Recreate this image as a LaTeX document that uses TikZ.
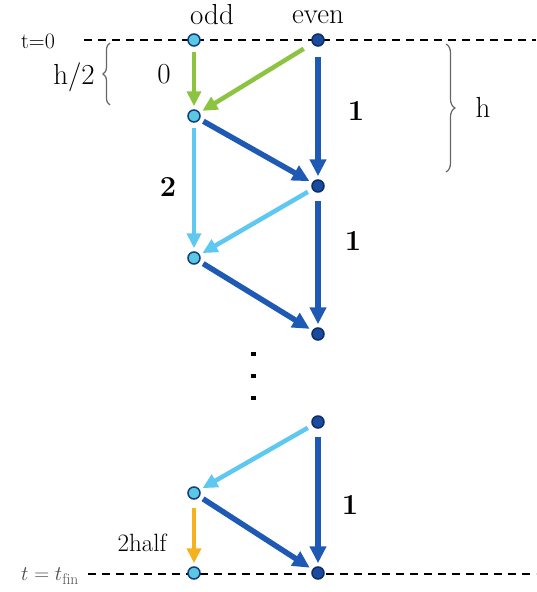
\documentclass[tikz,border=0pt]{standalone}
\usepackage{fontspec}
\usetikzlibrary{arrows.meta,decorations.pathreplacing}
\definecolor{dblue}{RGB}{30,90,180}
\definecolor{lblue}{RGB}{95,200,240}
\definecolor{lgreen}{RGB}{140,195,65}
\definecolor{orng}{RGB}{245,178,30}
\definecolor{oddfill}{RGB}{90,200,225}
\definecolor{evenfill}{RGB}{25,75,160}
\begin{document}
\begin{tikzpicture}[x=1pt,y=-1pt,
  oddnode/.style={circle,fill=oddfill,draw=evenfill!80!black,line width=1.5pt,minimum size=12pt,inner sep=0pt},
  evennode/.style={circle,fill=evenfill,draw=evenfill!60!black,line width=1.5pt,minimum size=12pt,inner sep=0pt},
  arr/.style={line width=5.5pt,-{Triangle[length=17pt,width=16pt]},shorten >=3pt,shorten <=5pt},
  thinarr/.style={line width=4.5pt,-{Triangle[length=15pt,width=14pt]},shorten >=3pt,shorten <=5pt},
  lab/.style={font=\fontsize{29}{32}\selectfont,inner sep=0pt},
  slab/.style={font=\fontsize{22}{25}\selectfont,inner sep=0pt},
  dline/.style={dash pattern=on 8pt off 6pt,line width=1.6pt},
  br/.style={decorate,decoration={brace,amplitude=7pt},line width=1.2pt,draw=black!60}]
\useasboundingbox (0,0) rectangle (536,592);
% time lines
\coordinate (tl0) at (84,40);
\coordinate (tr0) at (536,40);
\coordinate (tl1) at (88,574);
\coordinate (tr1) at (536,574);
\draw[dline] (tl0) -- (tr0);
\draw[dline] (tl1) -- (tr1);
% nodes
\node[oddnode] (o0) at (194,40) {};
\node[oddnode] (o1) at (194,116) {};
\node[oddnode] (o2) at (194,258) {};
\node[oddnode] (o3) at (194,493) {};
\node[oddnode] (o4) at (194,573) {};
\node[evennode] (e0) at (318,40) {};
\node[evennode] (e1) at (318,186) {};
\node[evennode] (e2) at (318,334) {};
\node[evennode] (e3) at (318,422) {};
\node[evennode] (e4) at (318,573) {};
% arrows
\draw[thinarr,lgreen] (o0) -- (o1);
\draw[thinarr,lgreen,shorten <=10pt] (e0) -- (o1);
\draw[arr,dblue,shorten <=10pt] (e0) -- (e1);
\draw[arr,dblue,shorten <=4pt] (o1) -- (e1);
\draw[thinarr,lblue] (o1) -- (o2);
\draw[thinarr,lblue] (e1) -- (o2);
\draw[arr,dblue,shorten <=8pt] (e1) -- (e2);
\draw[arr,dblue,shorten <=4pt] (o2) -- (e2);
\draw[thinarr,lblue] (e3) -- (o3);
\draw[arr,dblue,shorten <=8pt] (e3) -- (e4);
\draw[arr,dblue,shorten <=4pt] (o3) -- (e4);
\draw[thinarr,orng,shorten <=8pt] (o3) -- (o4);
% dots
\node[rectangle,fill=black,inner sep=0pt,minimum width=5pt,minimum height=4.5pt] (d1) at (253,354) {};
\node[rectangle,fill=black,inner sep=0pt,minimum width=5pt,minimum height=4.5pt] (d2) at (253,376) {};
\node[rectangle,fill=black,inner sep=0pt,minimum width=5pt,minimum height=4.5pt] (d3) at (253,398) {};
% braces
\coordinate (b1a) at (110,105);
\coordinate (b1b) at (110,43);
\draw[br] (b1a) -- (b1b);
\coordinate (b2a) at (446,44);
\coordinate (b2b) at (446,172);
\draw[br,decoration={amplitude=9pt}] (b2a) -- (b2b);
% labels
\node[lab] (lodd) at (212,15) {odd};
\node[lab] (leven) at (318,17) {even};
\node[slab] (lt0) at (38,41) {t=0};
\node[lab] (lh2) at (74,77) {h/2};
\node[lab] (lh) at (483,107) {h};
\node[lab] (l0) at (164,74) {0};
\node[lab] (l1a) at (356,111) {\bfseries 1};
\node[lab] (l2) at (168,187) {\bfseries 2};
\node[lab] (l1b) at (353,241) {\bfseries 1};
\node[lab] (l1c) at (350,505) {\bfseries 1};
\node[slab,font=\fontsize{25}{27}\selectfont] (l2h) at (142,543) {2half};
\node[slab,text=black!70] (ltf) at (50,576) {$t=t_{\mathrm{fin}}$};
\end{tikzpicture}
\end{document}
